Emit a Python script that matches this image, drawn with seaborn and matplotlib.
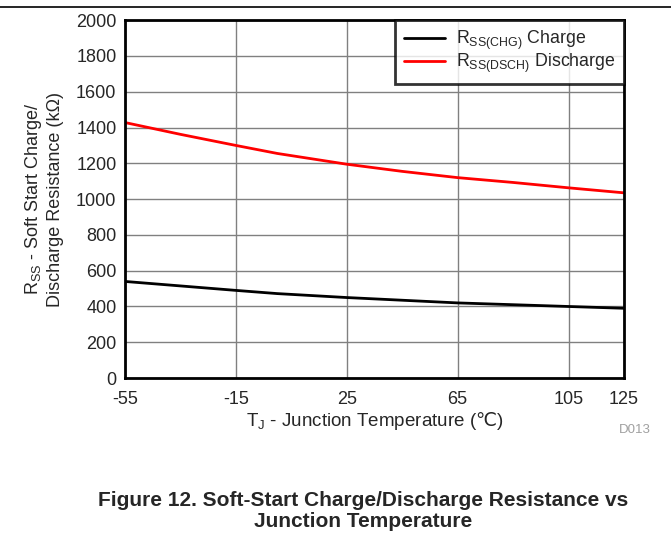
import numpy as np
import pandas as pd
import matplotlib
matplotlib.use("Agg")
import matplotlib.pyplot as plt
import seaborn as sns

temps = [-55, -35, -15, 0, 25, 45, 65, 85, 105, 125]
charge = [540, 515, 490, 472, 450, 435, 420, 410, 400, 390]
discharge = [1428, 1362, 1300, 1255, 1195, 1155, 1120, 1093, 1063, 1035]
series_names = ["$\\mathregular{R_{SS(CHG)}}$ Charge", "$\\mathregular{R_{SS(DSCH)}}$ Discharge"]
xticks = [-55, -15, 25, 65, 105, 125]
yticks = [0, 200, 400, 600, 800, 1000, 1200, 1400, 1600, 1800, 2000]

df = pd.DataFrame({
    "T": temps * 2,
    "R": charge + discharge,
    "series": [series_names[0]] * len(temps) + [series_names[1]] * len(temps),
})

sns.set_style("white")
plt.rcParams["font.family"] = ["Liberation Sans", "DejaVu Sans"]
plt.rcParams["mathtext.fontset"] = "custom"
plt.rcParams["mathtext.rm"] = "Liberation Sans"
plt.rcParams["mathtext.sf"] = "DejaVu Sans"
plt.rcParams["axes.unicode_minus"] = False

fig = plt.figure(figsize=(6.71, 5.44), dpi=100)
ax = fig.add_axes([0.186, 0.305, 0.744, 0.658])

sns.lineplot(data=df, x="T", y="R", hue="series", palette=["black", "red"],
             linewidth=2, ax=ax, legend=True)

ax.set_xlim(-55, 125)
ax.set_ylim(0, 2000)
ax.set_xticks(xticks)
ax.set_yticks(yticks)
ax.tick_params(labelsize=13, length=0)
ax.tick_params(axis="x", pad=9)
ax.tick_params(axis="y", pad=6)
ax.grid(True, color="#808080", linewidth=1)
for s in ax.spines.values():
    s.set_linewidth(2)
    s.set_color("black")
    s.set_visible(True)

ax.set_xlabel("T$_\\mathregular{J}$ - Junction Temperature ($\\mathsf{\u2103}$)", fontsize=13.5, labelpad=2)
ax.set_ylabel("R$_\\mathregular{SS}$ - Soft Start Charge/\nDischarge Resistance (k\u03a9)", fontsize=13, labelpad=9)

leg = ax.legend(loc="upper right", fontsize=12.8, frameon=True, fancybox=False,
                borderaxespad=0, handlelength=2.3, handletextpad=0.6,
                labelspacing=0.0, borderpad=0.5)
leg.get_frame().set_edgecolor("black")
leg.get_frame().set_linewidth(2)
leg.set_title(None)

fig.text(0.923, 0.21, "D013", color="#a0a0a0", fontsize=9.5, ha="left", va="center")
fig.lines.append(plt.Line2D([0, 1], [0.987, 0.987], transform=fig.transFigure, color="black", linewidth=1.2))
fig.text(0.541, 0.061, "Figure 12. Soft-Start Charge/Discharge Resistance vs\nJunction Temperature",
         ha="center", va="center", fontsize=15, fontweight="bold", linespacing=1.15)

fig.savefig("out.png", dpi=100)
